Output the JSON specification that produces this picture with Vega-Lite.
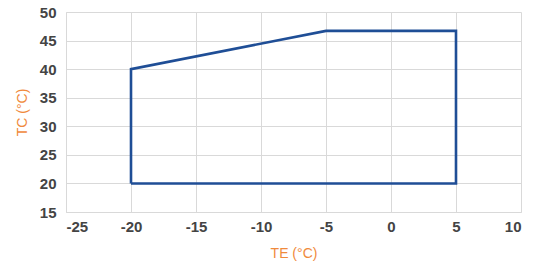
{
  "$schema": "https://vega.github.io/schema/vega-lite/v6.json",
  "autosize": "none",
  "width": 455,
  "height": 200,
  "padding": {"left": 66, "top": 12, "right": 25, "bottom": 49},
  "background": "white",
  "config": {
    "view": {"stroke": null},
    "axis": {
      "labelFont": "Arial, Liberation Sans, sans-serif",
      "labelFontSize": 15,
      "labelFontWeight": 600,
      "labelColor": "#444444",
      "titleFont": "Arial, Liberation Sans, sans-serif",
      "titleFontSize": 14,
      "titleFontWeight": "normal",
      "titleColor": "#F08A3C",
      "gridColor": "#d9d9d9",
      "gridWidth": 1,
      "domainColor": "#d9d9d9",
      "ticks": false
    }
  },
  "data": {
    "values": [
      {"order": 1, "te": -20, "tc": 20},
      {"order": 2, "te": -20, "tc": 40},
      {"order": 3, "te": -5, "tc": 46.7},
      {"order": 4, "te": 5, "tc": 46.7},
      {"order": 5, "te": 5, "tc": 20},
      {"order": 6, "te": -20, "tc": 20}
    ]
  },
  "mark": {"type": "line", "color": "#1f4e96", "strokeWidth": 2.6, "strokeJoin": "miter"},
  "encoding": {
    "x": {
      "field": "te", "type": "quantitative",
      "scale": {"domain": [-25, 10], "nice": false},
      "axis": {"values": [-25, -20, -15, -10, -5, 0, 5, 10], "labelExpr": "datum.value < 0 ? '-' + abs(datum.value) : '' + datum.value", "title": "TE (°C)", "labelPadding": 7, "titlePadding": 12}
    },
    "y": {
      "field": "tc", "type": "quantitative",
      "scale": {"domain": [15, 50], "nice": false, "zero": false},
      "axis": {"values": [15, 20, 25, 30, 35, 40, 45, 50], "title": "TC (°C)", "labelPadding": 10, "titlePadding": 10}
    },
    "order": {"field": "order", "type": "quantitative"}
  }
}
